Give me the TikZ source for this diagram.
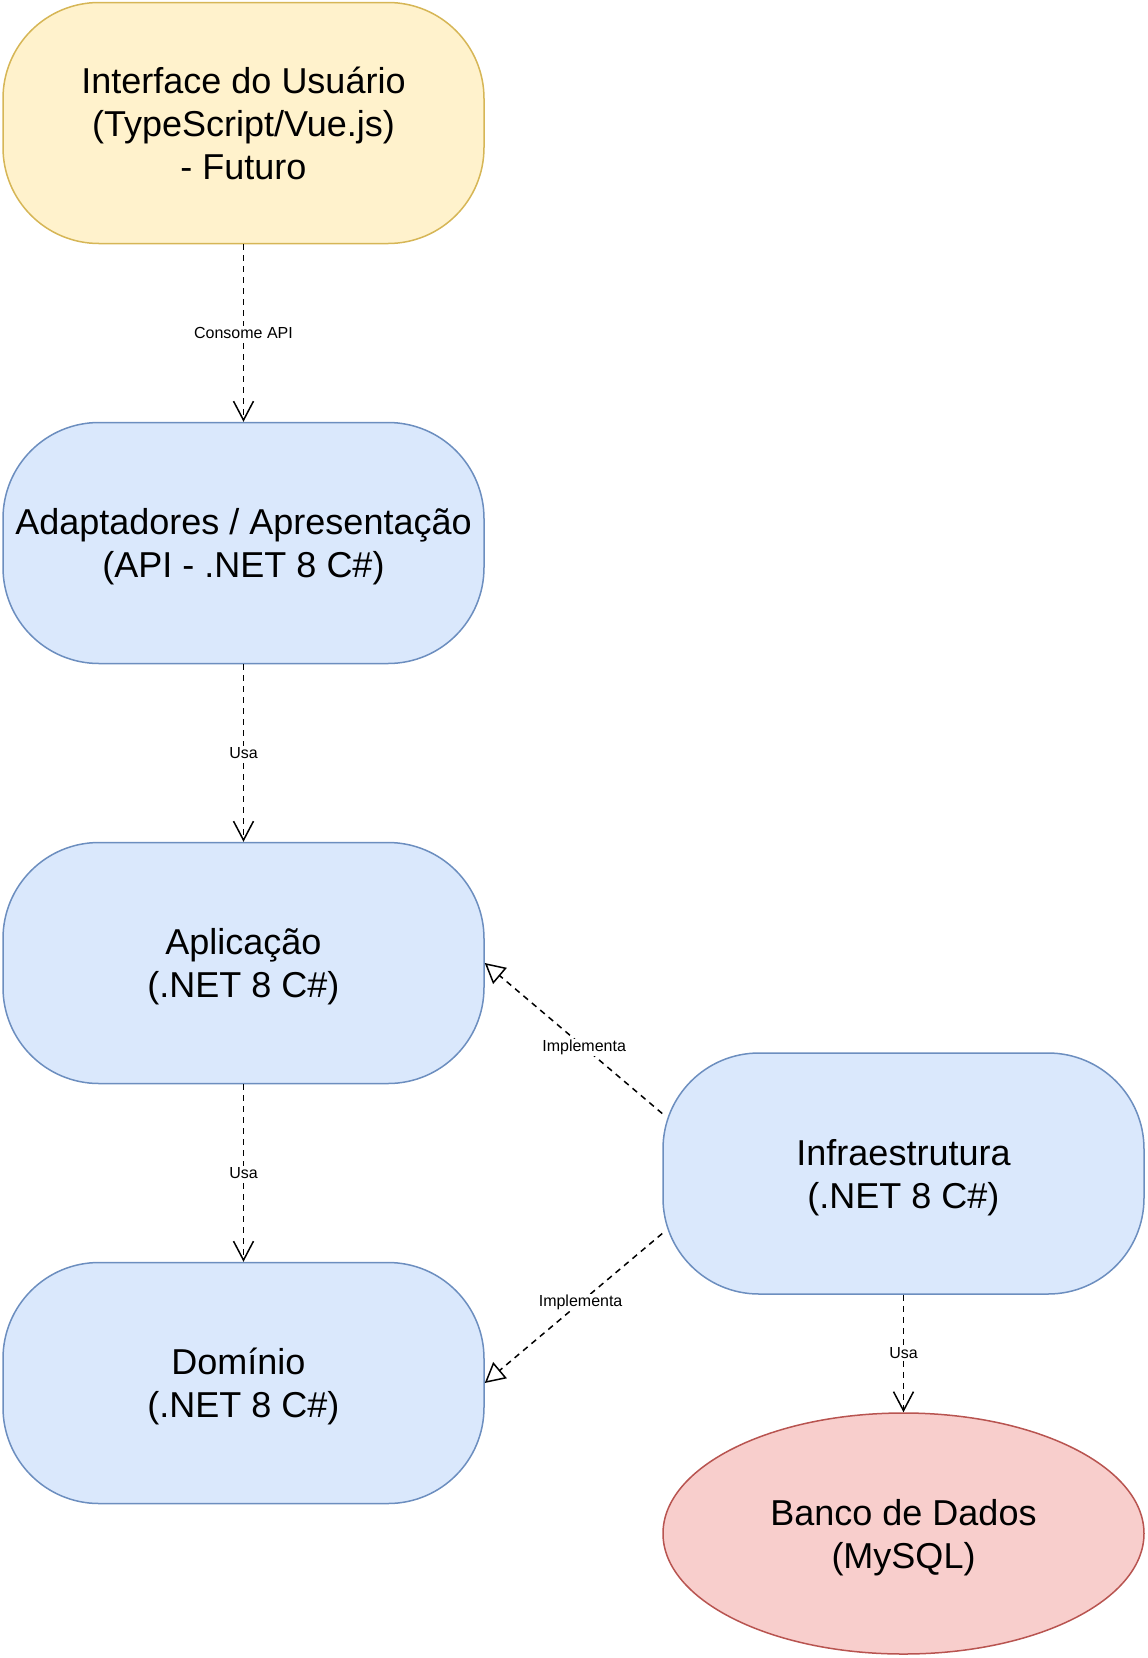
\documentclass[tikz,border=0pt]{standalone}
\usepackage{fontspec}
\setmainfont{Liberation Sans}
\usepackage{tikz}
\usetikzlibrary{arrows.meta, shapes.geometric}
\definecolor{uifill}{HTML}{FFF2CC}
\definecolor{uidraw}{HTML}{D6B656}
\definecolor{layfill}{HTML}{DAE8FC}
\definecolor{laydraw}{HTML}{6C8EBF}
\definecolor{dbfill}{HTML}{F8CECC}
\definecolor{dbdraw}{HTML}{B85450}

\begin{document}
\begin{tikzpicture}[x=1pt, y=-1pt,
  layer/.style={draw=laydraw, fill=layfill, line width=1.5pt, rounded corners=96pt,
    minimum width=481pt, minimum height=241pt, align=center, text depth=0pt,
    font=\fontsize{36pt}{43pt}\selectfont},
  uibox/.style={layer, draw=uidraw, fill=uifill},
  dbbox/.style={ellipse, draw=dbdraw, fill=dbfill, line width=1.5pt,
    minimum width=481pt, minimum height=241pt, inner sep=0pt, align=center,
    text depth=0pt, font=\fontsize{36pt}{43pt}\selectfont},
  lbl/.style={fill=white, inner sep=1pt, font=\fontsize{16pt}{19pt}\selectfont},
  uses/.style={line width=1.5pt, dash pattern=on 6pt off 5pt,
    -{Straight Barb[length=19pt, width=20pt]}},
  impl/.style={line width=1.5pt, dash pattern=on 6pt off 5pt,
    -{Triangle[open, length=20pt, width=21pt]}}]
\useasboundingbox (0,0) rectangle (1148,1658);

\node[uibox] (ui) at (243.5,123) {Interface do Usuário\\(TypeScript/Vue.js)\\- Futuro};
\node[layer] (adapt) at (243.5,543) {Adaptadores / Apresentação\\(API - .NET 8 C\#)};
\node[layer] (app) at (243.5,963) {Aplicação\\(.NET 8 C\#)};
\node[layer] (dom) at (243.5,1383) {Domínio\hphantom{\ }\\(.NET 8 C\#)};
\node[layer] (infra) at (903.5,1173.5) {Infraestrutura\\(.NET 8 C\#)};
\node[dbbox] (db) at (903.5,1533.5) {Banco de Dados\\(MySQL)};

\draw[uses] (ui) -- node[lbl] {Consome API} (adapt);
\draw[uses] (adapt) -- node[lbl] {Usa} (app);
\draw[uses] (app) -- node[lbl] {Usa} (dom);
\draw[uses] (infra) -- node[lbl] {Usa} (db);

\draw[impl] ([yshift=60pt]infra.west) -- node[lbl, pos=0.44] {Implementa} (app.east);
\draw[impl] ([yshift=-60pt]infra.west) -- node[lbl, pos=0.46] {Implementa} (dom.east);
\end{tikzpicture}
\end{document}
